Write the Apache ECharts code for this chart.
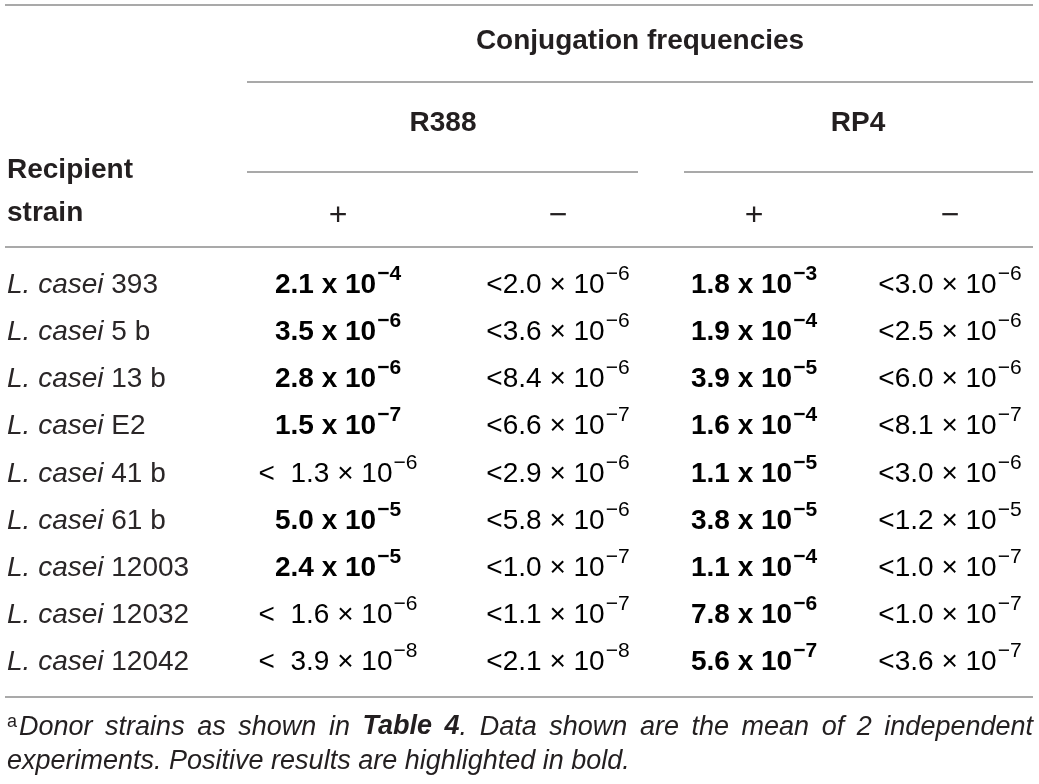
<!DOCTYPE html>
<html>
<head>
<meta charset="utf-8">
<script src="https://cdn.jsdelivr.net/npm/echarts@6/dist/echarts.min.js"></script>
<style>
  html, body { margin: 0; padding: 0; background: #fff; }
  #chart { width: 1039px; height: 784px; }
</style>
</head>
<body>
<div id="chart"></div>
<script>
// table content
const genus = 'L. casei';
const strains = ['393', '5 b', '13 b', 'E2', '41 b', '61 b', '12003', '12032', '12042'];
const r388Pos = ['2.1e-4', '3.5e-6', '2.8e-6', '1.5e-7', '< 1.3e-6', '5.0e-5', '2.4e-5', '< 1.6e-6', '< 3.9e-8'];
const r388Neg = ['<2.0e-6', '<3.6e-6', '<8.4e-6', '<6.6e-7', '<2.9e-6', '<5.8e-6', '<1.0e-7', '<1.1e-7', '<2.1e-8'];
const rp4Pos = ['1.8e-3', '1.9e-4', '3.9e-5', '1.6e-4', '1.1e-5', '3.8e-5', '1.1e-4', '7.8e-6', '5.6e-7'];
const rp4Neg = ['<3.0e-6', '<2.5e-6', '<6.0e-6', '<8.1e-7', '<3.0e-6', '<1.2e-5', '<1.0e-7', '<1.0e-7', '<3.6e-7'];
const spanTitle = 'Conjugation frequencies';
const plasmids = ['R388', 'RP4'];
const signs = ['+', '−', '+', '−'];
const stubHead = ['Recipient', 'strain'];
// footnote, line 1 is justified; segments flagged b are bold
const noteMark = 'a';
const noteLine1 = [['Donor'], ['strains'], ['as'], ['shown'], ['in'], [['Table', 'b']], [['4', 'b'], ['.']],
  ['Data'], ['shown'], ['are'], ['the'], ['mean'], ['of'], ['2'], ['independent']];
const noteLine2 = 'experiments. Positive results are highlighted in bold.';

// layout
const W = 1039, H = 784;
const INK = '#231f20';
const SOFT = '#2a2627';
const RULE = '#8c8c8c';
const FF = '"Liberation Sans", Arial, Helvetica, sans-serif';
const colX = [338, 558, 754, 950];
const rowTop = 285, rowStep = 47.2;

const chart = echarts.init(document.getElementById('chart'), null, { renderer: 'canvas' });

const cellRich = {
  b: { fontFamily: FF, fontWeight: 'bold', fontSize: 28, lineHeight: 32, color: INK },
  bs: { fontFamily: FF, fontWeight: 'bold', fontSize: 21, lineHeight: 21, color: INK, padding: [0, 0, 22, 1] },
  r: { fontFamily: FF, fontSize: 28, lineHeight: 32, color: SOFT },
  rs: { fontFamily: FF, fontSize: 21, lineHeight: 21, color: SOFT, padding: [0, 0, 22, 1] }
};

function cellText(s) {
  const m = s.match(/^(<\s?)?([\d.]+)e-(\d+)$/);
  if (!m[1]) return '{b|' + m[2] + ' x 10}{bs|−' + m[3] + '}';
  const lt = m[1].length > 1 ? '<  ' : '<';
  return '{r|' + lt + m[2] + ' × 10}{rs|−' + m[3] + '}';
}

function txt(x, y, text, font, align) {
  return {
    type: 'text', x: x, y: y, silent: true,
    style: { text: text, font: font, fill: INK, align: align, textAlign: align,
      verticalAlign: 'middle', textVerticalAlign: 'middle' }
  };
}

function rule(x1, x2, y) {
  return { type: 'line', silent: true, shape: { x1: x1, y1: y, x2: x2, y2: y },
    style: { stroke: RULE, lineWidth: 1.6 } };
}

const bold28 = 'bold 28px ' + FF;
const graphics = [
  rule(5, 1033, 5), rule(247, 1033, 82), rule(247, 638, 172), rule(684, 1033, 172),
  rule(5, 1033, 247), rule(5, 1033, 697),
  txt(640, 41, spanTitle, bold28, 'center'),
  txt(443, 123, plasmids[0], bold28, 'center'),
  txt(858, 123, plasmids[1], bold28, 'center'),
  txt(7, 170, stubHead[0], bold28, 'left'),
  txt(7, 213, stubHead[1], bold28, 'left')
];
signs.forEach((s, i) => graphics.push(txt(colX[i], 216, s, '32px ' + FF, 'center')));

// footnote
const ctx = document.createElement('canvas').getContext('2d');
const itFont = 'italic 27px ' + FF, itBold = 'italic bold 27px ' + FF;
graphics.push(txt(7, 722, noteMark, '18px ' + FF, 'left'));
const segs = noteLine1.map(w => w.map(s => Array.isArray(s) ? s : [s]));
const wordW = segs.map(w => w.reduce((a, s) => { ctx.font = s[1] ? itBold : itFont; return a + ctx.measureText(s[0]).width; }, 0));
const x0 = 19, x1 = 1033;
const gap = (x1 - x0 - wordW.reduce((a, b) => a + b, 0)) / (segs.length - 1);
let cx = x0;
segs.forEach((w, i) => {
  let sx = cx;
  w.forEach(s => {
    const f = s[1] ? itBold : itFont;
    graphics.push(txt(sx, 727, s[0], f, 'left'));
    ctx.font = f;
    sx += ctx.measureText(s[0]).width;
  });
  cx += wordW[i] + gap;
});
graphics.push(txt(7, 761, noteLine2, itFont, 'left'));

const columns = [r388Pos, r388Neg, rp4Pos, rp4Neg];

const option = {
  animation: false,
  backgroundColor: '#fff',
  grid: { left: 0, right: 0, top: rowTop - rowStep / 2, height: rowStep * strains.length },
  xAxis: { type: 'value', min: 0, max: W, show: false },
  yAxis: {
    type: 'category', inverse: true, data: strains,
    axisLine: { show: false }, axisTick: { show: false }, splitLine: { show: false },
    axisLabel: {
      interval: 0, margin: -7, align: 'left',
      fontFamily: FF, fontSize: 28, color: SOFT,
      formatter: v => '{i|' + genus + '} ' + v,
      rich: { i: { fontFamily: FF, fontSize: 28, fontStyle: 'italic', color: SOFT } }
    }
  },
  series: columns.map((vals, c) => ({
    type: 'custom',
    coordinateSystem: 'cartesian2d',
    silent: true,
    data: vals.map((v, i) => [colX[c], i]),
    renderItem: function (params, api) {
      const p = api.coord([api.value(0), api.value(1)]);
      return {
        type: 'text', x: p[0], y: p[1],
        style: { text: cellText(vals[params.dataIndex]), rich: cellRich,
          align: 'center', textAlign: 'center', verticalAlign: 'middle', textVerticalAlign: 'middle' }
      };
    }
  })),
  graphic: { elements: graphics }
};

chart.setOption(option);
</script>
</body>
</html>
